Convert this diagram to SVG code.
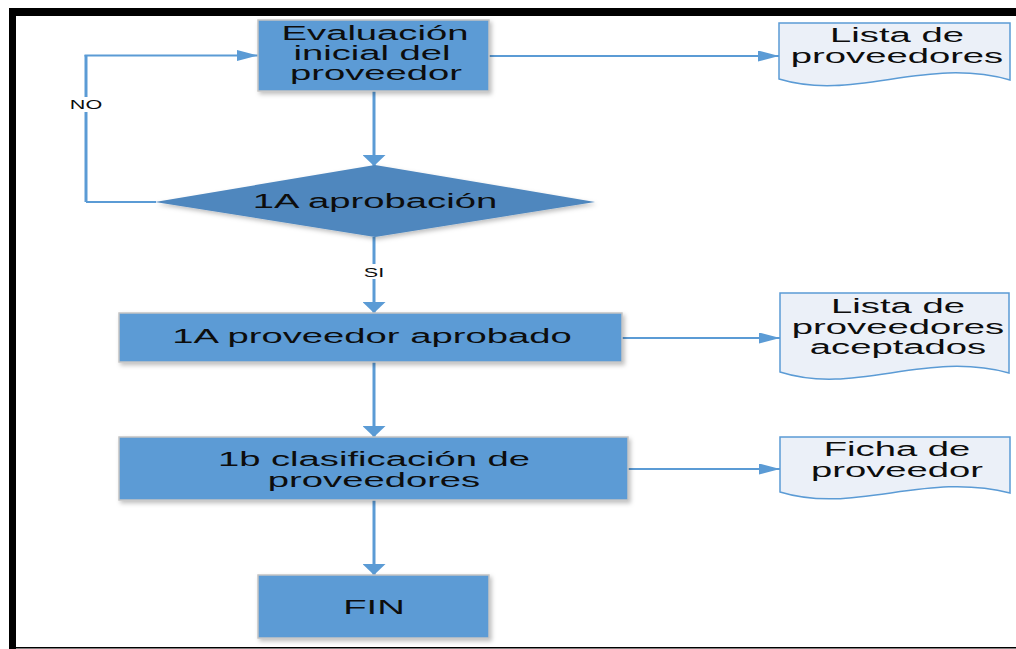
<svg xmlns="http://www.w3.org/2000/svg" width="1016" height="649" viewBox="0 0 1016 649">
<defs>
<style>
.box{fill:#5B9BD5;stroke:#C4C4C4;stroke-width:1.5;filter:url(#sh)}
.dia{fill:#4F87BE;filter:url(#sh)}
.doc{fill:#EBF0F8;stroke:#5B9BD5;stroke-width:1.5}
.t{font-family:"Liberation Sans",Arial,sans-serif;font-size:21px;fill:#0d0d0d;text-anchor:middle}
.s{font-family:"Liberation Sans",Arial,sans-serif;font-size:12px;fill:#0d0d0d;text-anchor:middle}
.h{fill:none;stroke:#5B9BD5;stroke-width:2}
.v{fill:none;stroke:#5B9BD5;stroke-width:3}
</style>
<filter id="sh" x="-10%" y="-10%" width="130%" height="140%">
<feDropShadow dx="2" dy="2.5" stdDeviation="2" flood-color="#000" flood-opacity="0.25"/>
</filter>
<marker id="ah" markerUnits="userSpaceOnUse" orient="0" markerWidth="22" markerHeight="12" refX="21" refY="5.5" viewBox="0 0 22 12">
<path d="M0,0 L21,5.5 L0,11 Z" fill="#5B9BD5"/>
</marker>
<marker id="av" markerUnits="userSpaceOnUse" orient="0" markerWidth="24" markerHeight="12" refX="11.5" refY="11" viewBox="0 0 24 12">
<path d="M0,0 L23,0 L11.5,11 Z" fill="#5B9BD5"/>
</marker>
</defs>
<rect x="0" y="0" width="1016" height="649" fill="#fff"/>
<g id="frame">
<rect x="9" y="8" width="1007" height="8" fill="#000"/>
<rect x="9" y="8" width="7" height="641" fill="#000"/>
<rect x="16" y="647" width="1000" height="1.5" fill="#000"/>
</g>
<g id="connectors">
<path class="v" d="M86,202 V55"/>
<path class="h" d="M86,202 H156"/>
<path class="h" d="M84.5,55.5 H258" marker-end="url(#ah)"/>
<path class="v" d="M374,91 V166" marker-end="url(#av)"/>
<path class="v" d="M374,237 V313" marker-end="url(#av)"/>
<path class="v" d="M374,362 V437" marker-end="url(#av)"/>
<path class="v" d="M374,500 V575" marker-end="url(#av)"/>
<path class="h" d="M489,56 H779" marker-end="url(#ah)"/>
<path class="h" d="M622,338 H780" marker-end="url(#ah)"/>
<path class="h" d="M628,469 H780" marker-end="url(#ah)"/>
<rect x="68" y="97" width="36" height="15" fill="#fff"/>
<text class="s" transform="matrix(1.8,0,0,1,86,0)" x="0" y="109">NO</text>
<rect x="360" y="264" width="28" height="15" fill="#fff"/>
<text class="s" transform="matrix(1.8,0,0,1,374,0)" x="0" y="277">SI</text>
</g>
<g id="n1">
<rect class="box" x="258" y="20" width="231" height="71"/>
<text class="t" transform="matrix(1.82,0,0,1,375,0)" x="0" y="40">Evaluación</text>
<text class="t" transform="matrix(1.82,0,0,1,372,0)" x="0" y="60">inicial del</text>
<text class="t" transform="matrix(1.82,0,0,1,376,0)" x="0" y="80">proveedor</text>
</g>
<g id="n2">
<polygon class="dia" points="375,165 595,202 375,237 155,202"/>
<text class="t" transform="matrix(1.82,0,0,1,375,0)" x="0" y="208">1A aprobación</text>
</g>
<g id="n3">
<rect class="box" x="119" y="313" width="503" height="49"/>
<text class="t" transform="matrix(1.82,0,0,1,372,0)" x="0" y="343">1A proveedor aprobado</text>
</g>
<g id="n4">
<rect class="box" x="119" y="437" width="509" height="63"/>
<text class="t" transform="matrix(1.82,0,0,1,374,0)" x="0" y="466">1b clasificación de</text>
<text class="t" transform="matrix(1.82,0,0,1,374,0)" x="0" y="487">proveedores</text>
</g>
<g id="n5">
<rect class="box" x="258" y="575" width="231" height="63"/>
<text class="t" transform="matrix(1.82,0,0,1,374,0)" x="0" y="614">FIN</text>
</g>
<g id="d1">
<path class="doc" d="M779,79 V23 H1010 V80 C925,56 855,102 779,79 Z"/>
<text class="t" transform="matrix(1.82,0,0,1,897,0)" x="0" y="42">Lista de</text>
<text class="t" transform="matrix(1.82,0,0,1,897,0)" x="0" y="63">proveedores</text>
</g>
<g id="d2">
<path class="doc" d="M780,372 V293 H1009 V373 C925,350 855,396 780,372 Z"/>
<text class="t" transform="matrix(1.82,0,0,1,898,0)" x="0" y="313">Lista de</text>
<text class="t" transform="matrix(1.82,0,0,1,898,0)" x="0" y="334">proveedores</text>
<text class="t" transform="matrix(1.82,0,0,1,898,0)" x="0" y="354">aceptados</text>
</g>
<g id="d3">
<path class="doc" d="M780,492 V437 H1010 V493 C925,471 855,515 780,492 Z"/>
<text class="t" transform="matrix(1.82,0,0,1,897,0)" x="0" y="456">Ficha de</text>
<text class="t" transform="matrix(1.82,0,0,1,897,0)" x="0" y="477">proveedor</text>
</g>
</svg>
